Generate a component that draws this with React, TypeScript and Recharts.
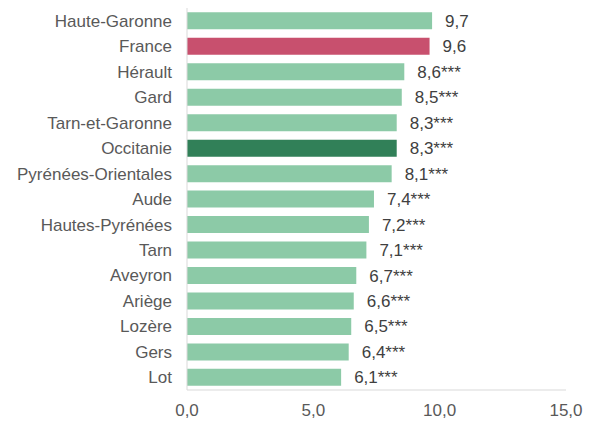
import React from "react";
import { BarChart, Bar, XAxis, YAxis, Cell, LabelList } from "recharts";

const categories = [
  "Haute-Garonne", "France", "Hérault", "Gard", "Tarn-et-Garonne", "Occitanie",
  "Pyrénées-Orientales", "Aude", "Hautes-Pyrénées", "Tarn", "Aveyron", "Ariège",
  "Lozère", "Gers", "Lot",
];
const values = [9.7, 9.6, 8.6, 8.5, 8.3, 8.3, 8.1, 7.4, 7.2, 7.1, 6.7, 6.6, 6.5, 6.4, 6.1];
const significance = ["", "", "***", "***", "***", "***", "***", "***", "***", "***", "***", "***", "***", "***", "***"];
const xTicks = [0, 5, 10, 15];

const colorDefault = "#8CCAA7";
const colorFrance = "#C8506E";
const colorOccitanie = "#318058";

const fmt = (v: number) => v.toFixed(1).replace(".", ",");

const data = categories.map((name, i) => ({
  name,
  value: values[i],
  label: fmt(values[i]) + significance[i],
}));

const colorFor = (name: string) =>
  name === "France" ? colorFrance : name === "Occitanie" ? colorOccitanie : colorDefault;

const font = "'Liberation Sans', Arial, sans-serif";

export default function App() {
  return (
    <div style={{ position: "absolute", left: 0, top: 0, width: 592, height: 422, background: "#fff" }}>
      <BarChart
        width={592}
        height={422}
        data={data}
        layout="vertical"
        margin={{ top: 8, right: 26, bottom: 0, left: 0 }}
        barCategoryGap="17%"
      >
        <XAxis
          type="number"
          domain={[0, 15]}
          ticks={xTicks}
          tickFormatter={fmt}
          axisLine={{ stroke: "#D9D9D9", strokeWidth: 1 }}
          tickLine={false}
          tickSize={0}
          tickMargin={14}
          height={32}
          interval={0}
          tick={{ fill: "#595959", fontSize: 17, fontFamily: font }}
        />
        <YAxis
          type="category"
          dataKey="name"
          width={187}
          axisLine={{ stroke: "#D9D9D9", strokeWidth: 1 }}
          tickLine={false}
          tickSize={0}
          tickMargin={15}
          interval={0}
          tick={{ fill: "#595959", fontSize: 17, fontFamily: font }}
        />
        <Bar dataKey="value" isAnimationActive={false}>
          {data.map((d) => (
            <Cell key={d.name} fill={colorFor(d.name)} />
          ))}
          <LabelList
            dataKey="label"
            position="right"
            offset={13}
            fill="#404040"
            fontSize={17}
            fontFamily={font}
          />
        </Bar>
      </BarChart>
    </div>
  );
}
